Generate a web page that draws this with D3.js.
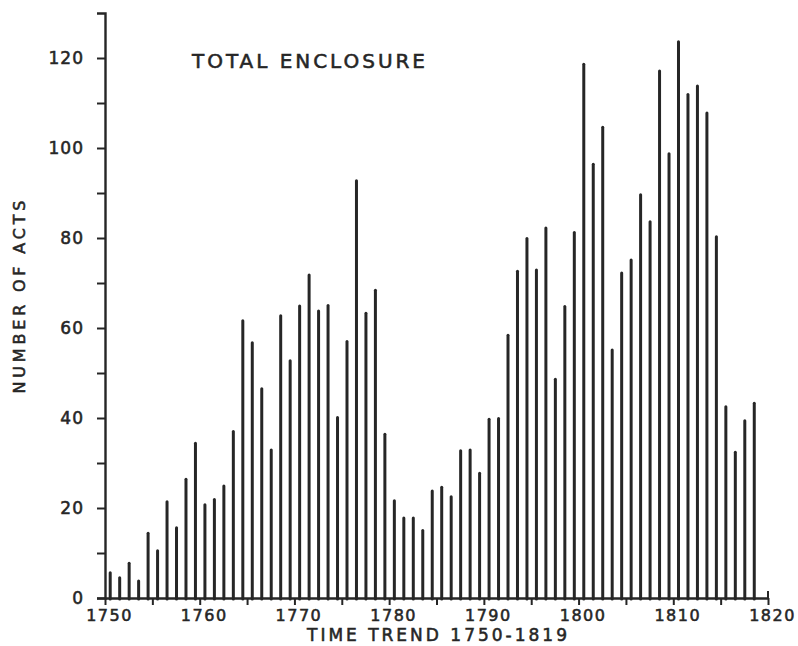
<!DOCTYPE html>
<html>
<head>
<meta charset="utf-8">
<script src="https://cdn.jsdelivr.net/npm/d3@7/dist/d3.min.js"></script>
<style>
  html, body { margin: 0; padding: 0; background: #fff; }
  svg { display: block; }
  text { font-family: "DejaVu Sans", sans-serif; fill: #262626; stroke: #262626; stroke-width: 0.55px; }
</style>
</head>
<body>
<svg id="chart" width="798" height="646"></svg>
<script>
// ---- data ----
const years = d3.range(1750, 1819); // 1750 .. 1818
const acts = [
  5.6, 4.5, 7.7, 3.8, 14.4, 10.5, 21.4, 15.6, 26.4, 34.4,
  20.7, 21.9, 24.9, 37.0, 61.6, 56.7, 46.5, 32.9, 62.7, 52.7,
  64.9, 71.8, 63.8, 65.0, 40.1, 57.0, 92.7, 63.3, 68.4, 36.4,
  21.6, 17.8, 17.8, 15.0, 23.8, 24.6, 22.5, 32.7, 32.9, 27.7,
  39.7, 39.9, 58.4, 72.6, 79.9, 72.9, 82.2, 48.6, 64.8, 81.2,
  118.6, 96.4, 104.6, 55.1, 72.2, 75.1, 89.6, 83.6, 117.1, 98.7,
  123.6, 111.9, 113.8, 107.8, 80.3, 42.5, 32.4, 39.4, 43.3
];
const yTickValues = d3.range(0, 121, 10);
const yLabelValues = [0, 20, 40, 60, 80, 100, 120];
const xTickValues = d3.range(1750, 1821, 5);
const xLabelValues = [1750, 1760, 1770, 1780, 1790, 1800, 1810, 1820];
const titleText = "TOTAL ENCLOSURE";
const xTitle = "TIME TREND  1750-1819";
const yTitle = "NUMBER OF ACTS";

// ---- layout ----
const svg = d3.select("#chart");
const ink = "#262626";
const x = d3.scaleLinear().domain([1750, 1820]).range([105, 768]);
const y = d3.scaleLinear().domain([0, 130]).range([598, 13]);

// bars (vertical strokes)
svg.append("g").selectAll("line").data(years).join("line")
  .attr("x1", (d) => x(d + 0.55))
  .attr("x2", (d) => x(d + 0.55))
  .attr("y1", y(0) + 1)
  .attr("y2", (d, i) => y(acts[i]))
  .attr("stroke", ink)
  .attr("stroke-width", 3)
  .attr("stroke-linecap", "round");

// y axis
const yAxis = d3.axisLeft(y)
  .tickValues(yTickValues)
  .tickSize(8)
  .tickSizeOuter(8)
  .tickPadding(13)
  .tickFormat((d) => yLabelValues.includes(d) ? d : "");
const gy = svg.append("g").attr("transform", `translate(${x(1750)},0)`).call(yAxis);
gy.select(".domain").attr("stroke", ink).attr("stroke-width", 2.4);
gy.selectAll(".tick line").attr("stroke", ink).attr("stroke-width", 2);
gy.selectAll(".tick text")
  .style("font-size", "17px")
  .attr("letter-spacing", "1px")
  .attr("fill", ink);

// x axis
const xAxis = d3.axisBottom(x)
  .tickValues(xTickValues)
  .tickSize(7)
  .tickSizeOuter(0)
  .tickPadding(5)
  .tickFormat((d) => xLabelValues.includes(d) ? d : "");
const gx = svg.append("g").attr("transform", `translate(0,${y(0)})`).call(xAxis);
gx.select(".domain").attr("stroke", ink).attr("stroke-width", 2.4);
gx.selectAll(".tick line").attr("stroke", ink).attr("stroke-width", 2);
gx.selectAll(".tick text")
  .style("font-size", "16px")
  .attr("letter-spacing", "1.5px")
  .attr("dx", 4)
  .attr("fill", ink);
// small up-tick at right end of the baseline
svg.append("line")
  .attr("x1", x(1820)).attr("x2", x(1820))
  .attr("y1", y(0)).attr("y2", y(0) - 7)
  .attr("stroke", ink).attr("stroke-width", 2);

// title
svg.append("text")
  .attr("x", 192).attr("y", 68)
  .attr("textLength", 233)
  .attr("lengthAdjust", "spacing")
  .style("font-size", "20px")
  .text(titleText);

// x title
svg.append("text")
  .attr("x", 307).attr("y", 641)
  .attr("textLength", 260)
  .attr("lengthAdjust", "spacing")
  .style("font-size", "17px")
  .text(xTitle);

// y title
svg.append("text")
  .attr("transform", "translate(25,297) rotate(-90)")
  .attr("text-anchor", "middle")
  .attr("textLength", 193)
  .attr("lengthAdjust", "spacing")
  .style("font-size", "16px")
  .text(yTitle);
</script>
</body>
</html>
